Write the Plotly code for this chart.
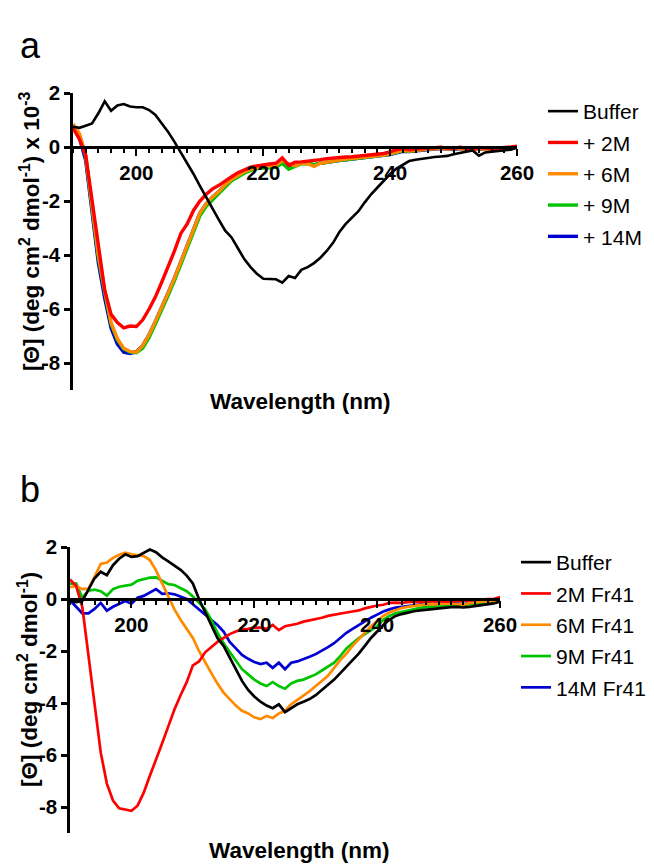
import plotly.graph_objects as go

# wavelength grid, 1 nm steps
wavelength = list(range(190, 261))

# panel a: [Theta] x 10^-3
a_buffer = [0.75, 0.71, 0.79, 0.87, 1.25, 1.69, 1.34, 1.54, 1.59, 1.5, 1.47, 1.47, 1.37, 1.19, 0.87,
            0.56, 0.19, -0.19, -0.62, -1.0, -1.44, -1.87, -2.3, -2.7, -3.1,
            -3.35, -3.75, -4.15, -4.45, -4.7, -4.88, -4.9, -4.9, -5.02, -4.78, -4.85, -4.55, -4.45,
            -4.3, -4.1, -3.85, -3.55, -3.15, -2.85, -2.62, -2.38, -2.05, -1.75, -1.5, -1.25,
            -1.0, -0.8, -0.65, -0.52, -0.47, -0.43, -0.4, -0.37, -0.35, -0.33, -0.27, -0.22,
            -0.17, -0.13, -0.32, -0.2, -0.17, -0.14, -0.12, -0.1, -0.02]
a_2m = [0.7, 0.3, -0.3, -2.0, -3.8, -5.3, -6.2, -6.5, -6.7, -6.63, -6.65, -6.4, -6.0, -5.55, -5.0,
        -4.45, -3.85, -3.2, -2.85, -2.35, -2.0, -1.75, -1.55, -1.42, -1.25,
        -1.1, -0.95, -0.85, -0.75, -0.7, -0.65, -0.63, -0.6, -0.4, -0.68, -0.56, -0.55, -0.53,
        -0.5, -0.47, -0.43, -0.4, -0.38, -0.37, -0.36, -0.34, -0.3, -0.28, -0.26, -0.24,
        -0.18, -0.1, -0.06, -0.1, -0.08, -0.06, -0.04, -0.03, -0.01, -0.04, -0.05, -0.01,
        -0.06, -0.08, -0.02, -0.04, -0.06, -0.04, -0.03, 0.0, 0.03]
a_6m = [0.85, 0.5, -0.3, -2.2, -4.0, -5.3, -6.5, -7.1, -7.45, -7.57, -7.6, -7.35, -6.95, -6.45, -5.95,
        -5.4, -4.85, -4.25, -3.6, -3.0, -2.45, -2.1, -1.85, -1.65, -1.4,
        -1.2, -1.05, -0.92, -0.82, -0.76, -0.72, -0.7, -0.68, -0.5, -0.62, -0.7, -0.6, -0.62,
        -0.72, -0.6, -0.55, -0.5, -0.48, -0.45, -0.43, -0.4, -0.38, -0.35, -0.32, -0.3,
        -0.25, -0.18, -0.12, -0.15, -0.12, -0.1, -0.08, -0.07, -0.05, -0.08, -0.08, -0.05,
        -0.1, -0.12, -0.06, -0.08, -0.1, -0.08, -0.06, -0.04, 0.0]
a_9m = [0.8, 0.45, -0.35, -2.3, -4.1, -5.4, -6.55, -7.15, -7.48, -7.6, -7.62, -7.45, -7.05, -6.55, -6.05,
        -5.5, -4.95, -4.35, -3.7, -3.1, -2.55, -2.2, -1.95, -1.72, -1.48,
        -1.25, -1.1, -0.97, -0.87, -0.8, -0.78, -0.76, -0.75, -0.6, -0.82, -0.72, -0.62, -0.62,
        -0.65, -0.6, -0.56, -0.52, -0.5, -0.47, -0.45, -0.42, -0.38, -0.36, -0.34, -0.32,
        -0.27, -0.2, -0.14, -0.16, -0.12, -0.1, -0.08, -0.06, -0.03, -0.06, -0.07, -0.04,
        -0.08, -0.1, -0.04, -0.06, -0.08, -0.07, -0.05, -0.03, 0.0]
a_14m = [0.75, 0.35, -0.5, -2.5, -4.3, -5.6, -6.7, -7.3, -7.6, -7.65, -7.58, -7.35, -6.95, -6.45, -5.95,
         -5.4, -4.85, -4.25, -3.6, -3.0, -2.45, -2.1, -1.85, -1.65, -1.42,
         -1.2, -1.05, -0.93, -0.84, -0.78, -0.75, -0.72, -0.7, -0.55, -0.72, -0.7, -0.6, -0.6,
         -0.66, -0.6, -0.56, -0.52, -0.49, -0.47, -0.45, -0.42, -0.4, -0.37, -0.35, -0.33,
         -0.28, -0.22, -0.16, -0.17, -0.14, -0.12, -0.1, -0.08, -0.06, -0.08, -0.09, -0.06,
         -0.1, -0.12, -0.07, -0.08, -0.1, -0.08, -0.06, -0.04, -0.01]

# panel b
b_buffer = [-0.05, -0.12, -0.08, 0.35, 0.8, 1.05, 0.92, 1.3, 1.55, 1.72, 1.62, 1.65, 1.78, 1.9, 1.8,
            1.6, 1.45, 1.3, 1.12, 0.9, 0.6, 0.0, -0.5, -1.0, -1.5, -1.8,
            -2.25, -2.75, -3.15, -3.5, -3.75, -3.95, -4.1, -4.2, -4.05, -4.35, -4.2, -4.05, -3.95,
            -3.85, -3.7, -3.5, -3.3, -3.1, -2.85, -2.6, -2.35, -2.1, -1.8, -1.5, -1.25,
            -1.0, -0.8, -0.65, -0.58, -0.52, -0.47, -0.44, -0.41, -0.38, -0.36, -0.34, -0.31,
            -0.3, -0.32, -0.3, -0.27, -0.23, -0.2, -0.17, -0.1]
b_2m = [0.75, 0.5, -0.3, -2.2, -4.2, -5.9, -7.1, -7.75, -8.05, -8.1, -8.15, -7.95, -7.45, -6.8, -6.2,
        -5.55, -4.9, -4.25, -3.7, -3.2, -2.55, -2.4, -2.05, -1.85, -1.65, -1.5,
        -1.35, -1.25, -1.17, -1.15, -1.1, -1.1, -1.15, -1.0, -1.2, -1.05, -1.0, -0.95, -0.87,
        -0.82, -0.78, -0.72, -0.65, -0.6, -0.56, -0.52, -0.48, -0.44, -0.36, -0.3, -0.25,
        -0.22, -0.15, -0.14, -0.15, -0.12, -0.1, -0.11, -0.1, -0.07, -0.08, -0.1, -0.1,
        -0.08, -0.07, -0.05, -0.04, -0.02, 0.0, 0.0, 0.08]
b_6m = [0.45, 0.5, 0.38, 0.4, 0.85, 1.35, 1.4, 1.58, 1.7, 1.78, 1.72, 1.68, 1.65, 1.5, 1.1,
        0.6, 0.1, -0.4, -0.8, -1.15, -1.5, -2.0, -2.45, -2.85, -3.25, -3.6,
        -3.85, -4.1, -4.3, -4.4, -4.55, -4.62, -4.5, -4.58, -4.4, -4.3, -4.05, -3.9, -3.72,
        -3.55, -3.35, -3.15, -2.95, -2.65, -2.35, -2.1, -1.8, -1.55, -1.3, -1.05, -0.85,
        -0.65, -0.52, -0.42, -0.35, -0.3, -0.27, -0.22, -0.2, -0.21, -0.2, -0.18, -0.17,
        -0.2, -0.22, -0.16, -0.12, -0.1, -0.09, -0.08, 0.0]
b_9m = [0.58, 0.6, 0.05, 0.32, 0.36, 0.3, 0.13, 0.38, 0.47, 0.5, 0.55, 0.7, 0.77, 0.82, 0.83,
        0.7, 0.57, 0.54, 0.42, 0.3, 0.1, -0.15, -0.4, -0.8, -1.3, -1.7,
        -2.05, -2.35, -2.7, -2.9, -3.1, -3.25, -3.35, -3.2, -3.35, -3.45, -3.25, -3.15, -3.1,
        -3.0, -2.9, -2.75, -2.6, -2.45, -2.2, -1.9, -1.7, -1.5, -1.35, -1.2, -1.05,
        -0.8, -0.65, -0.55, -0.5, -0.45, -0.38, -0.34, -0.31, -0.29, -0.27, -0.25, -0.23,
        -0.25, -0.27, -0.2, -0.18, -0.16, -0.14, -0.12, -0.06]
b_14m = [-0.05, -0.3, -0.55, -0.55, -0.38, -0.15, -0.45, -0.3, -0.18, -0.08, -0.18, 0.05, 0.12, 0.25, 0.38,
         0.2, 0.22, 0.18, 0.1, 0.0, -0.2, -0.4, -0.6, -0.8, -1.0, -1.25,
         -1.65, -1.9, -2.15, -2.3, -2.42, -2.5, -2.45, -2.65, -2.45, -2.7, -2.45, -2.4, -2.32,
         -2.22, -2.12, -2.0, -1.85, -1.7, -1.5, -1.3, -1.15, -1.0, -0.85, -0.72, -0.6,
         -0.48, -0.4, -0.33, -0.3, -0.27, -0.24, -0.2, -0.19, -0.2, -0.18, -0.17, -0.16,
         -0.18, -0.2, -0.15, -0.12, -0.1, -0.08, -0.07, -0.02]

a_names = ["Buffer", "+ 2M", "+ 6M", "+ 9M", "+ 14M"]
b_names = ["Buffer", "2M Fr41", "6M Fr41", "9M Fr41", "14M Fr41"]
colors = ["#000000", "#ff0000", "#ff8a00", "#00c400", "#0000d0"]

x_tickvals = [200, 220, 240, 260]
y_tickvals = [-8, -6, -4, -2, 0, 2]
y_ticktext = ["-8", "-6", "-4", "-2", "0", "2"]

FONT = "Liberation Sans, Arial, sans-serif"
W, H = 654, 867


def px_x(p):
    return p / W


def px_y(p):
    return (H - p) / H


fig = go.Figure()

# draw order: highest concentration first so the red curve ends up on top
a_series = [a_buffer, a_2m, a_6m, a_9m, a_14m]
b_series = [b_buffer, b_2m, b_6m, b_9m, b_14m]
for i in [4, 3, 2, 1, 0]:
    fig.add_trace(go.Scatter(
        x=wavelength, y=a_series[i], mode="lines", name=a_names[i],
        line=dict(color=colors[i], width=2.6 if i == 0 else 3.4),
        legendgroup="a%d" % i, legendrank=i + 1, legend="legend", xaxis="x", yaxis="y"))
for i in [4, 3, 2, 1, 0]:
    fig.add_trace(go.Scatter(
        x=wavelength, y=b_series[i], mode="lines", name=b_names[i],
        line=dict(color=colors[i], width=2.7),
        legendgroup="b%d" % i, legendrank=i + 1, legend="legend2", xaxis="x2", yaxis="y2"))

xa_dom = [px_x(73), px_x(517)]
ya_dom = [px_y(390), px_y(93)]
xb_dom = [px_x(70), px_x(500)]
yb_dom = [px_y(833), px_y(547)]
yrange = [-9, 2]


def zero_pos(dom):
    return dom[0] + (0 - yrange[0]) / (yrange[1] - yrange[0]) * (dom[1] - dom[0])


tickfont = dict(family=FONT, size=20.5, color="black", weight="bold")


def xaxis_style(dom, ydom):
    return dict(
        domain=dom, range=[190, 260], anchor="free", position=zero_pos(ydom),
        showline=True, linecolor="black", linewidth=2.5, showgrid=False, zeroline=False,
        tickmode="array", tickvals=x_tickvals, ticks="outside", ticklen=7, tickwidth=2.2,
        tickcolor="black", tickfont=tickfont,
        minor=dict(tickmode="linear", tick0=190, dtick=2, ticks="outside", ticklen=4,
                   tickwidth=2, tickcolor="black"),
    )


def yaxis_style(dom, xname):
    return dict(
        domain=dom, range=yrange, anchor=xname, showline=True, linecolor="black",
        linewidth=2.5, showgrid=False, zeroline=False, tickmode="array",
        tickvals=y_tickvals, ticktext=y_ticktext, ticks="outside", ticklen=6,
        tickwidth=2.5, tickcolor="black", tickfont=tickfont,
    )


legend_style = dict(
    font=dict(family=FONT, size=21, color="black"), traceorder="grouped",
    tracegroupgap=1, bgcolor="rgba(0,0,0,0)", xanchor="left", yanchor="top",
)

fig.update_layout(
    width=W, height=H, margin=dict(l=0, r=0, t=0, b=0, autoexpand=False),
    paper_bgcolor="white", plot_bgcolor="white", showlegend=True,
    xaxis=xaxis_style(xa_dom, ya_dom), yaxis=yaxis_style(ya_dom, "x"),
    xaxis2=xaxis_style(xb_dom, yb_dom), yaxis2=yaxis_style(yb_dom, "x2"),
    legend=dict(legend_style, x=px_x(543), y=px_y(91)),
    legend2=dict(legend_style, x=px_x(516), y=px_y(542)),
)

title_font = dict(family=FONT, size=22.5, color="black")
fig.add_annotation(text="<b>Wavelength (nm)</b>", x=px_x(300), y=px_y(401), xref="paper",
                   yref="paper", showarrow=False, font=title_font, xanchor="center", yanchor="middle")
fig.add_annotation(text="<b>Wavelength (nm)</b>", x=px_x(299), y=px_y(850), xref="paper",
                   yref="paper", showarrow=False, font=title_font, xanchor="center", yanchor="middle")
fig.add_annotation(text="<b>[Θ] (deg cm<sup>2</sup> dmol<sup>-1</sup>) x 10<sup>-3</sup></b>",
                   x=px_x(30), y=px_y(231), xref="paper", yref="paper", showarrow=False,
                   textangle=-90, font=title_font, xanchor="center", yanchor="middle")
fig.add_annotation(text="<b>[Θ] (deg cm<sup>2</sup> dmol<sup>-1</sup>)</b>",
                   x=px_x(28), y=px_y(680), xref="paper", yref="paper", showarrow=False,
                   textangle=-90, font=title_font, xanchor="center", yanchor="middle")
fig.add_annotation(text="a", x=px_x(18), y=px_y(45), xref="paper", yref="paper",
                   showarrow=False, font=dict(family=FONT, size=36, color="black"),
                   xanchor="left", yanchor="middle")
fig.add_annotation(text="b", x=px_x(18), y=px_y(490), xref="paper", yref="paper",
                   showarrow=False, font=dict(family=FONT, size=36, color="black"),
                   xanchor="left", yanchor="middle")

# drop the default 8px body margin so the figure sits at the page origin
fig.write_html("out.html", config={"displayModeBar": False},
               post_script="document.body.style.margin='0';")
